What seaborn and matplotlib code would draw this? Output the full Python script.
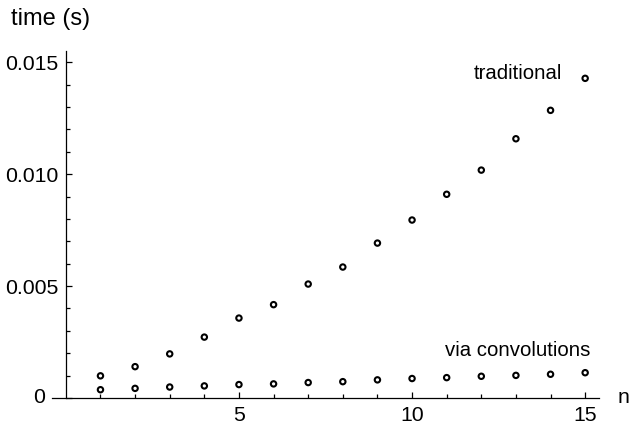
import matplotlib
matplotlib.use("Agg")
import matplotlib.pyplot as plt
import pandas as pd
import seaborn as sb
from matplotlib.ticker import MultipleLocator, FixedLocator

# timings
n_values = list(range(1, 16))
traditional = [0.00099, 0.00140, 0.00197, 0.00272, 0.00357, 0.00417, 0.00509, 0.00585,
               0.00692, 0.00795, 0.00910, 0.01018, 0.01158, 0.01285, 0.01428]
convolutions = [0.00037, 0.00043, 0.00049, 0.00054, 0.00060, 0.00063, 0.00069, 0.00073,
                0.00081, 0.00087, 0.00091, 0.00097, 0.00101, 0.00106, 0.00113]
x_major = [5, 10, 15]
y_major = [0, 0.005, 0.010, 0.015]
y_labels = ["", "0.005", "0.010", "0.015"]

sb.set_style("ticks")
plt.rcParams['font.family'] = ['Liberation Sans', 'DejaVu Sans']
plt.rcParams['text.color'] = 'black'

df = pd.DataFrame({
    "n": n_values * 2,
    "time": traditional + convolutions,
    "method": ["traditional"] * 15 + ["via convolutions"] * 15,
})

fig = plt.figure(figsize=(6.31, 4.28), dpi=100)
ax = fig.add_axes([0.0824, 0.0701, 0.8669, 0.8107])

sb.scatterplot(data=df, x="n", y="time", hue="method", palette=["black", "black"],
               marker="o", s=15, linewidth=1.5, legend=False, ax=ax)
for coll in ax.collections:
    coll.set_facecolor("none")
    coll.set_edgecolor("black")

ax.set_xlim(-0.4, 15.4)
ax.set_ylim(0, 0.0155)

for side in ["top", "right"]:
    ax.spines[side].set_visible(False)
ax.spines["left"].set_position(("data", 0))
ax.spines["bottom"].set_position(("data", 0))
for side in ["left", "bottom"]:
    ax.spines[side].set_linewidth(0.9)
    ax.spines[side].set_color("black")

ax.xaxis.set_major_locator(FixedLocator(x_major))
ax.xaxis.set_minor_locator(FixedLocator([v for v in n_values if v not in x_major]))
ax.yaxis.set_major_locator(FixedLocator(y_major))
ax.yaxis.set_minor_locator(MultipleLocator(0.001))
ax.set_yticklabels(y_labels)

ax.tick_params(axis="both", which="both", direction="in", color="black", width=0.9,
               labelsize=15.3, labelcolor="black")
ax.tick_params(axis="both", which="major", length=4.3)
ax.tick_params(axis="both", which="minor", length=2.9)
ax.tick_params(axis="y", which="major", pad=5.5)
ax.tick_params(axis="x", which="major", pad=6)

ax.set_xlabel("")
ax.set_ylabel("")

ax.text(-0.6, 0, "0", ha="right", va="center", fontsize=15.3, clip_on=False)
ax.text(16.1, 0, "n", ha="center", va="center", fontsize=15.3, clip_on=False)
ax.text(14.34, 0.0145, "traditional", ha="right", va="center", fontsize=14.7)
ax.text(15.15, 0.0021, "via convolutions", ha="right", va="center", fontsize=14.7)
fig.text(11 / 631, 1 - 19 / 428, "time (s)", ha="left", va="center", fontsize=17)

fig.savefig("out.png", dpi=100)
